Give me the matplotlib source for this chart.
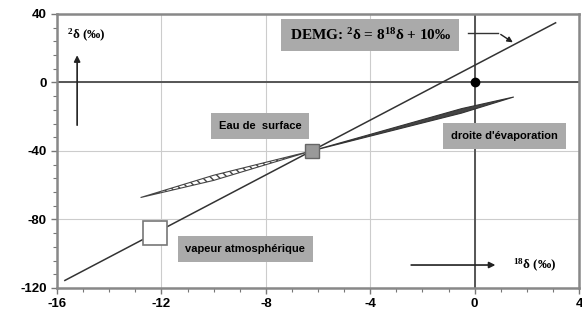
import matplotlib
matplotlib.use('Agg')
import matplotlib.pyplot as plt
from matplotlib.patches import Polygon
from matplotlib.ticker import MultipleLocator

# Data
gmwl_x = [-15.7, 3.1]           # range of the meteoric water line (18O)
gmwl_slope, gmwl_icpt = 8, 10
surface_water = (-6.25, -40)
atm_vapour = (-12.25, -88)
origin = (0, 0)
evap_wedge = [(-6.25, -40), (-0.5, -15.3), (1.5, -8.5), (-0.5, -17.9)]
vap_wedge = [(-6.25, -40), (-10.0, -54.2), (-12.8, -67.2), (-10.0, -57.2)]
x_ticks = [-16, -12, -8, -4, 0, 4]
y_ticks = [-120, -80, -40, 0, 40]

plt.rcParams['axes.unicode_minus'] = False
plt.rcParams['mathtext.fontset'] = 'custom'
plt.rcParams['mathtext.rm'] = 'Liberation Serif:bold'
plt.rcParams['mathtext.it'] = 'Liberation Serif:bold'
plt.rcParams['mathtext.bf'] = 'Liberation Serif:bold'

fig = plt.figure(figsize=(5.82, 3.31), dpi=100)
ax = fig.add_axes([0.098, 0.13, 0.897, 0.828])

ax.set_xlim(-16, 4)
ax.set_ylim(-120, 40)
ax.set_xticks(x_ticks)
ax.set_yticks(y_ticks)
ax.xaxis.set_minor_locator(MultipleLocator(1))
ax.yaxis.set_minor_locator(MultipleLocator(8))
ax.tick_params(which='both', direction='out', color='#777777')
ax.tick_params(which='major', length=4, width=1)
ax.tick_params(which='minor', length=3, width=0.8)
for lab in ax.get_xticklabels() + ax.get_yticklabels():
    lab.set_fontfamily('Liberation Sans')
    lab.set_fontweight('bold')
    lab.set_fontsize(9.5)
ax.grid(True, which='major', color='#cccccc', lw=0.8)
ax.set_axisbelow(True)
for sp in ax.spines.values():
    sp.set_color('#888888')
    sp.set_linewidth(1.8)

ax.axhline(0, color='#555555', lw=1.4, zorder=2)
ax.axvline(0, color='#555555', lw=1.4, zorder=2)

# meteoric water line
gy = [gmwl_slope * x + gmwl_icpt for x in gmwl_x]
ax.plot(gmwl_x, gy, color='#333333', lw=1.1, zorder=3)

# evaporation wedges
ax.add_patch(Polygon(evap_wedge, closed=True, facecolor='#444444',
                     edgecolor='#333333', lw=0.8, zorder=3))
ax.add_patch(Polygon(vap_wedge, closed=True, facecolor='white',
                     edgecolor='#444444', lw=0.8, hatch='\\\\\\\\', zorder=3))

ax.plot(*origin, 'o', color='black', ms=6, zorder=5)
ax.plot(*surface_water, 's', mfc='#999999', mec='#666666', ms=10, zorder=5)
ax.plot(*atm_vapour, 's', mfc='white', mec='#777777', mew=1.2, ms=17, zorder=5)

box = dict(boxstyle='square,pad=0.55', fc='#aaaaaa', ec='none')
ax.text(-4.0, 27.7, r'DEMG: $^{2}$δ = 8$^{18}$δ + 10‰', ha='center', va='center',
        fontsize=11, fontweight='bold', family='Liberation Serif', bbox=box, zorder=6)
ax.plot([-0.24, 0.91], [28.9, 28.9], color='#333333', lw=1, zorder=6)
ax.annotate('', xy=(1.55, 22.5), xytext=(0.91, 28.9),
            arrowprops=dict(arrowstyle='-|>', color='#222222', lw=1, mutation_scale=8), zorder=6)

small = dict(ha='center', va='center', fontsize=8, fontweight='bold',
             family='Liberation Sans', zorder=6)
sbox = dict(boxstyle='square,pad=0.7', fc='#aaaaaa', ec='none')
ax.text(-8.22, -25.4, 'Eau de  surface', bbox=sbox, **small)
ax.text(1.14, -31.2, "droite d'évaporation", bbox=sbox, **small)
ax.text(-8.79, -97.2, 'vapeur atmosphérique', bbox=sbox, **small)

ax.text(-15.62, 27.2, r'$^{2}$δ (‰)', ha='left', va='center', fontsize=9.5,
        fontweight='bold', family='Liberation Serif')
ax.annotate('', xy=(-15.23, 17.5), xytext=(-15.23, -26.6),
            arrowprops=dict(arrowstyle='-|>', color='#222222', lw=1.2, mutation_scale=9))
ax.text(1.45, -106.6, r'$^{18}$δ (‰)', ha='left', va='center', fontsize=9.5,
        fontweight='bold', family='Liberation Serif')
ax.annotate('', xy=(0.9, -106.6), xytext=(-2.54, -106.6),
            arrowprops=dict(arrowstyle='-|>', color='#222222', lw=1.2, mutation_scale=9))

fig.savefig('out.png', dpi=100)
